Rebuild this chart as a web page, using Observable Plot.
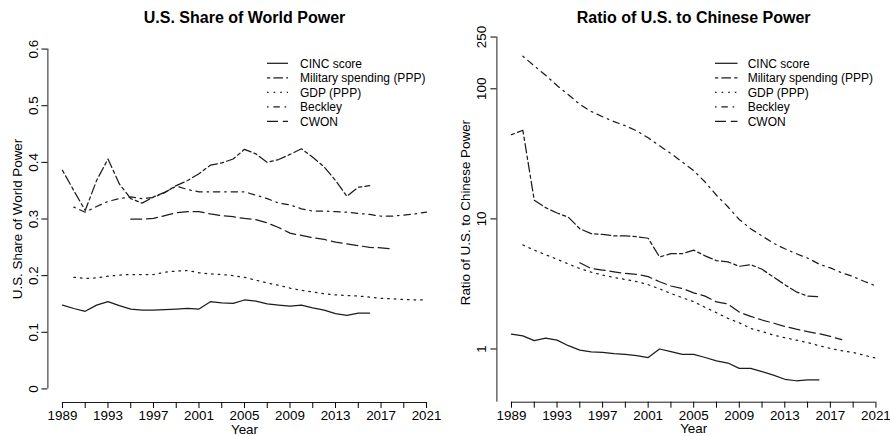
<!DOCTYPE html>
<html><head><meta charset="utf-8">
<script src="https://cdn.jsdelivr.net/npm/d3@7"></script>
<script src="https://cdn.jsdelivr.net/npm/@observablehq/plot@0.6"></script>
<style>
body{margin:0;background:#fff;font-family:"Liberation Sans",Arial,Helvetica,sans-serif;}
#wrap{position:relative;width:890px;height:436px;overflow:hidden;}
.panel{position:absolute;top:0;}
.legend{position:absolute;top:0;left:0;pointer-events:none;}
</style></head><body><div id="wrap"></div>
<script>
// ---------- data ----------
const years = [1989,1990,1991,1992,1993,1994,1995,1996,1997,1998,1999,2000,2001,2002,2003,2004,2005,2006,2007,2008,2009,2010,2011,2012,2013,2014,2015,2016,2017,2018,2019,2020,2021];
const seriesNames = ["CINC score","Military spending (PPP)","GDP (PPP)","Beckley","CWON"];
const xTicks = [1989,1991,1993,1995,1997,1999,2001,2003,2005,2007,2009,2011,2013,2015,2017,2019,2021];
const xTickLabels = [1989,1993,1997,2001,2005,2009,2013,2017,2021];

// U.S. share of world power (left panel)
const shareCINC = [0.148,0.142,0.137,0.148,0.154,0.147,0.141,0.139,0.139,0.140,0.141,0.142,0.141,0.154,0.152,0.151,0.157,0.155,0.150,0.148,0.146,0.148,0.143,0.139,0.133,0.130,0.134,0.134,null,null,null,null,null];
const shareMilitary = [0.386,0.350,0.315,0.368,0.406,0.362,0.336,0.328,0.339,0.347,0.359,0.368,0.380,0.395,0.399,0.406,0.423,0.415,0.400,0.405,0.414,0.424,0.409,0.392,0.368,0.340,0.356,0.359,null,null,null,null,null];
const shareGDP = [null,0.197,0.195,0.196,0.199,0.201,0.202,0.202,0.202,0.206,0.208,0.209,0.205,0.203,0.202,0.200,0.197,0.192,0.187,0.183,0.178,0.174,0.171,0.168,0.166,0.165,0.164,0.162,0.160,0.159,0.158,0.157,0.157];
const shareBeckley = [null,0.321,0.312,0.322,0.331,0.336,0.339,0.336,0.338,0.347,0.358,0.352,0.348,0.348,0.348,0.348,0.348,0.342,0.336,0.328,0.325,0.318,0.314,0.314,0.313,0.312,0.310,0.308,0.305,0.305,0.307,0.309,0.312];
const shareCWON = [null,null,null,null,null,null,0.300,0.300,0.301,0.306,0.311,0.313,0.313,0.309,0.306,0.304,0.301,0.299,0.293,0.285,0.275,0.271,0.267,0.264,0.259,0.256,0.253,0.250,0.249,0.247,null,null,null];
const shareYTicks = [0,0.1,0.2,0.3,0.4,0.5,0.6];

// Ratio of U.S. to Chinese power (right panel)
const ratioCINC = [1.30,1.26,1.16,1.21,1.17,1.06,0.98,0.95,0.94,0.92,0.91,0.89,0.86,1.00,0.955,0.91,0.91,0.86,0.81,0.78,0.71,0.71,0.67,0.63,0.585,0.57,0.58,0.58,null,null,null,null,null];
const ratioMilitary = [44.4,48,13.9,12.2,11.1,10.3,8.4,7.7,7.6,7.4,7.4,7.3,7.1,5.1,5.4,5.4,5.75,5.2,4.78,4.68,4.32,4.45,4.1,3.58,3.12,2.75,2.55,2.52,null,null,null,null,null];
const ratioGDP = [null,6.3,5.75,5.3,4.9,4.5,4.15,3.9,3.7,3.55,3.42,3.3,3.12,2.9,2.67,2.48,2.31,2.09,1.90,1.72,1.59,1.44,1.36,1.28,1.22,1.17,1.12,1.06,1.01,0.97,0.94,0.895,0.85];
const ratioBeckley = [null,178,150,127,106,90,76,67,61,56,52,47.5,42,36.5,31.8,27.4,23.5,19.2,15.2,12.4,9.9,8.4,7.4,6.5,5.9,5.4,5.0,4.5,4.2,3.85,3.6,3.3,3.05];
const ratioCWON = [null,null,null,null,null,null,4.6,4.16,4.04,3.92,3.81,3.75,3.6,3.29,3.05,2.92,2.7,2.55,2.3,2.22,1.92,1.78,1.67,1.58,1.49,1.42,1.36,1.31,1.25,1.18,null,null,null];
const ratioYTicks = [1,10,100,250];

// ---------- styles ----------
const dashes = ["none","3.2 3.2 9.6 3.2","1.6 5","1.6 4.8 6.4 4.8","11 4.8"];
const INK = "#1c1c1c";
const FONT = '"Liberation Sans", Arial, Helvetica, sans-serif';

function toRows(values){ return years.map((y,i)=>({year:y, value:values[i]})); }

function makePanel(o){
  const xPad = 0.04*(years[years.length-1]-years[0]);
  const xDomain = [years[0]-xPad, years[years.length-1]+xPad];
  const marks = [];
  o.series.forEach((vals,i)=>{
    marks.push(Plot.line(toRows(vals), {x:"year", y:"value", stroke:INK, strokeWidth:1.25, strokeDasharray:dashes[i], strokeLinejoin:"round"}));
  });
  marks.push(Plot.ruleY([o.yDomain[0]], {x1:xTicks[0], x2:xTicks[xTicks.length-1], stroke:INK, strokeWidth:1}));
  marks.push(Plot.ruleX([xDomain[0]], {y1:o.yAxisFrom, y2:o.yTicks[o.yTicks.length-1], stroke:INK, strokeWidth:1}));
  marks.push(Plot.axisX({ticks:xTicks, tickFormat:d=>xTickLabels.includes(d)?String(d):"", tickSize:6, tickPadding:2, label:null, fontSize:13.4}));
  marks.push(Plot.axisY({ticks:o.yTicks, tickFormat:()=>"", tickSize:6, label:null}));
  marks.push(Plot.text(o.yTicks, {y:d=>d, text:o.yFormat, frameAnchor:"left", dx:o.tickLabelDx, rotate:-90, fontSize:13.4, textAnchor:"middle", lineAnchor:"middle"}));
  marks.push(Plot.text(["Year"], {frameAnchor:"bottom", dy:27, fontSize:13.4, textAnchor:"middle", lineAnchor:"middle"}));
  marks.push(Plot.text([o.ylabel], {frameAnchor:"left", rotate:-90, dx:o.ylabelDx, fontSize:13.4, textAnchor:"middle", lineAnchor:"middle"}));
  marks.push(Plot.text([o.title], {frameAnchor:"top", dy:o.titleDy, fontSize:16, fontWeight:"bold", textAnchor:"middle", lineAnchor:"middle"}));
  return Plot.plot({
    width:445, height:436,
    marginLeft:o.ml, marginRight:o.mr, marginTop:o.mt, marginBottom:o.mb,
    style:{fontFamily:FONT, color:"#000", background:"#fff", overflow:"visible"},
    x:{domain:xDomain},
    y:{type:o.yType, domain:o.yDomain},
    marks
  });
}

const wrap = document.getElementById("wrap");

const logPad = 0.04*Math.log10(250/0.5);
const panels = [
  {left:0, title:"U.S. Share of World Power", ylabel:"U.S. Share of World Power",
   series:[shareCINC,shareMilitary,shareGDP,shareBeckley,shareCWON],
   yType:"linear", yDomain:[-0.024,0.624], yTicks:shareYTicks, yAxisFrom:shareYTicks[0],
   yFormat:d=>String(d), ml:47.4, mr:4.4, mt:35, mb:34, titleDy:-18, ylabelDx:-30, tickLabelDx:-14.4,
   legend:{x1:267, x2:288, tx:300}},
  {left:445, title:"Ratio of U.S. to Chinese Power", ylabel:"Ratio of U.S. to Chinese Power",
   series:[ratioCINC,ratioMilitary,ratioGDP,ratioBeckley,ratioCWON],
   yType:"log", yDomain:[0.5/Math.pow(10,logPad), 250*Math.pow(10,logPad)], yTicks:ratioYTicks, yAxisFrom:0.5/Math.pow(10,logPad),
   yFormat:d=>String(d), ml:51.4, mr:0, mt:22.5, mb:34.3, titleDy:-5.5, ylabelDx:-31.5, tickLabelDx:-14.7,
   legend:{x1:270, x2:292.5, tx:302.7}}
];

panels.forEach(p=>{
  const div = document.createElement("div");
  div.className = "panel";
  div.style.left = p.left+"px";
  div.appendChild(makePanel(p));
  // legend overlay
  const svg = d3.create("svg").attr("class","legend").attr("width",445).attr("height",436)
    .style("font-family",FONT).style("font-size","12px");
  seriesNames.forEach((name,i)=>{
    const cy = 63.3 + i*14.5;
    svg.append("line").attr("x1",p.legend.x1).attr("x2",p.legend.x2).attr("y1",cy).attr("y2",cy)
      .attr("stroke",INK).attr("stroke-width",1.25).attr("stroke-dasharray",dashes[i]);
    svg.append("text").attr("x",p.legend.tx).attr("y",cy).attr("dy","0.35em").attr("fill","#000").text(name);
  });
  div.style.width="445px"; div.style.height="436px";
  div.appendChild(svg.node());
  wrap.appendChild(div);
});
</script>
</body></html>
